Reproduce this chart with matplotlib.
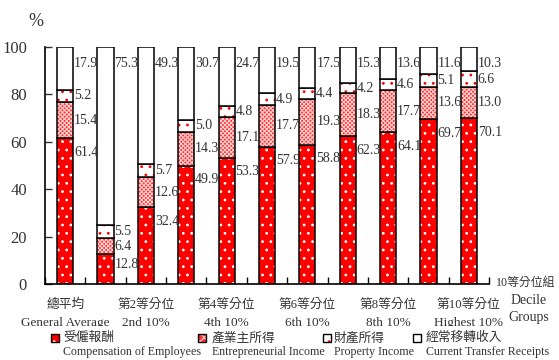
import numpy as np
import matplotlib
matplotlib.use("Agg")
import matplotlib.pyplot as plt
from matplotlib.patches import Rectangle

plt.rcParams['font.family'] = ['Liberation Serif', 'Noto Sans CJK TC', 'DejaVu Sans']
plt.rcParams['hatch.linewidth'] = 0.8

# 所得來源結構 (%)，依十等分位組
groups = ['總平均', '第1等分位', '第2等分位', '第3等分位', '第4等分位', '第5等分位',
          '第6等分位', '第7等分位', '第8等分位', '第9等分位', '第10等分位']
tick_labels = ['總平均\nGeneral Average', '第2等分位\n2nd 10%', '第4等分位\n4th 10%',
               '第6等分位\n6th 10%', '第8等分位\n8th 10%', '第10等分位\nHighest 10%']
comp = [61.4, 12.8, 32.4, 49.9, 53.3, 57.9, 58.8, 62.3, 64.1, 69.7, 70.1]
entre = [15.4, 6.4, 12.6, 14.3, 17.1, 17.7, 19.3, 18.3, 17.7, 13.6, 13.0]
prop = [5.2, 5.5, 5.7, 5.0, 4.8, 4.9, 4.4, 4.2, 4.6, 5.1, 6.6]
transfer = [17.9, 75.3, 49.3, 30.7, 24.7, 19.5, 17.5, 15.3, 13.6, 11.6, 10.3]

legend_zh = ['受僱報酬', '產業主所得', '財產所得', '經常移轉收入']
legend_en = ['Compensation of Employees', 'Entrepreneurial Income',
             'Property Income', 'Current Transfer Receipts']

RED = '#ff0000'
TXT = '#333333'
styles = [  # facecolor, hatch, hatch color
    (RED, '..', 'white'),
    ('#ff3030', 'xxxxxxxx', '#ffd0d0'),
    ('white', '..', RED),
    ('white', '', 'white'),
]

fig = plt.figure(figsize=(5.59, 3.60), dpi=100)
ax = fig.add_axes([45 / 559, 1 - 284 / 360, 444 / 559, 237 / 360])

x = np.arange(len(groups))
w = 0.4
series = [comp, entre, prop, transfer]
bottom = np.zeros(len(groups))
for vals, (fc, h, hc) in zip(series, styles):
    vals = np.array(vals)
    ax.bar(x, vals, w, bottom=bottom, color=fc, hatch=h, edgecolor=hc, linewidth=0)
    ax.bar(x, vals, w, bottom=bottom, facecolor='none', edgecolor='black', linewidth=1.1)
    bottom += vals

# 數值標籤
lab_kw = dict(ha='left', va='center', fontsize=10, color=TXT)
xr = x + w / 2 + 0.02
for i in range(len(groups)):
    c, e, p, t = comp[i], entre[i], prop[i], transfer[i]
    ax.text(xr[i], max(c - 6, c / 2 + 2), f'{c:.1f}', **lab_kw)
    ax.text(xr[i], c + e / 2, f'{e:.1f}', **lab_kw)
    ax.text(xr[i], c + e + p / 2, f'{p:.1f}', **lab_kw)
    ax.text(xr[i], 93, f'{t:.1f}', **lab_kw)

ax.set_xlim(-0.5, 10.5)
ax.set_ylim(0, 100)
ax.spines['top'].set_visible(False)
ax.spines['right'].set_visible(False)
ax.spines['left'].set_linewidth(1.2)
ax.spines['bottom'].set_linewidth(1.2)

ax.set_yticks(np.arange(0, 101, 20))
ax.tick_params(axis='y', direction='in', length=5, width=1, labelsize=12, pad=13, colors=TXT)
ax.set_xticks(np.arange(-0.5, 10.6, 1))
ax.set_xticklabels([])
ax.tick_params(axis='x', direction='in', length=5, width=1)

# 等分位標籤
for pos, lab in zip(range(0, 11, 2), tick_labels):
    zh, en = lab.split('\n')
    xc = (45 + (pos + 0.5) * 444 / 11) / 559
    fig.text(xc, 1 - 305 / 360, zh, ha='center', va='center', fontsize=9.2, color=TXT)
    fig.text(xc, 1 - 323 / 360, en, ha='center', va='center', fontsize=9.5, color=TXT)

fig.text(36 / 559, 1 - 21 / 360, '%', ha='center', va='center', fontsize=13, color=TXT)
fig.text(526 / 559, 1 - 283 / 360, '10等分位組', ha='center', va='center', fontsize=8.6, color=TXT)
fig.text(529 / 559, 1 - 300 / 360, 'Decile', ha='center', va='center', fontsize=10, color=TXT)
fig.text(529 / 559, 1 - 317 / 360, 'Groups', ha='center', va='center', fontsize=10, color=TXT)

# 圖例區白底，蓋住英文標籤下緣
fig.patches.append(Rectangle((0, 0), 1, 1 - 326 / 360, transform=fig.transFigure,
                             facecolor='white', edgecolor='none', zorder=4))

mark_x = [55, 202, 327, 417]
text_x = [63, 212, 334, 426]
s = 8
for mx, tx, zh, en, (fc, h, hc) in zip(mark_x, text_x, legend_zh, legend_en, styles):
    xy = ((mx - s / 2) / 559, 1 - (338 + s / 2) / 360)
    fig.patches.append(Rectangle(xy, s / 559, s / 360, transform=fig.transFigure,
                                 facecolor=fc, hatch=h.replace('xxxxxxxx', 'xxxx'),
                                 edgecolor=hc, linewidth=0, zorder=5))
    fig.patches.append(Rectangle(xy, s / 559, s / 360, transform=fig.transFigure,
                                 facecolor='none', edgecolor='black', linewidth=1, zorder=5))
    fig.text(tx / 559, 1 - 338 / 360, zh, ha='left', va='center', fontsize=9.2,
             color=TXT, zorder=6)
    fig.text(tx / 559, 1 - 352 / 360, en, ha='left', va='center', fontsize=8.6,
             color=TXT, zorder=6)

fig.savefig('out.png', dpi=100)
